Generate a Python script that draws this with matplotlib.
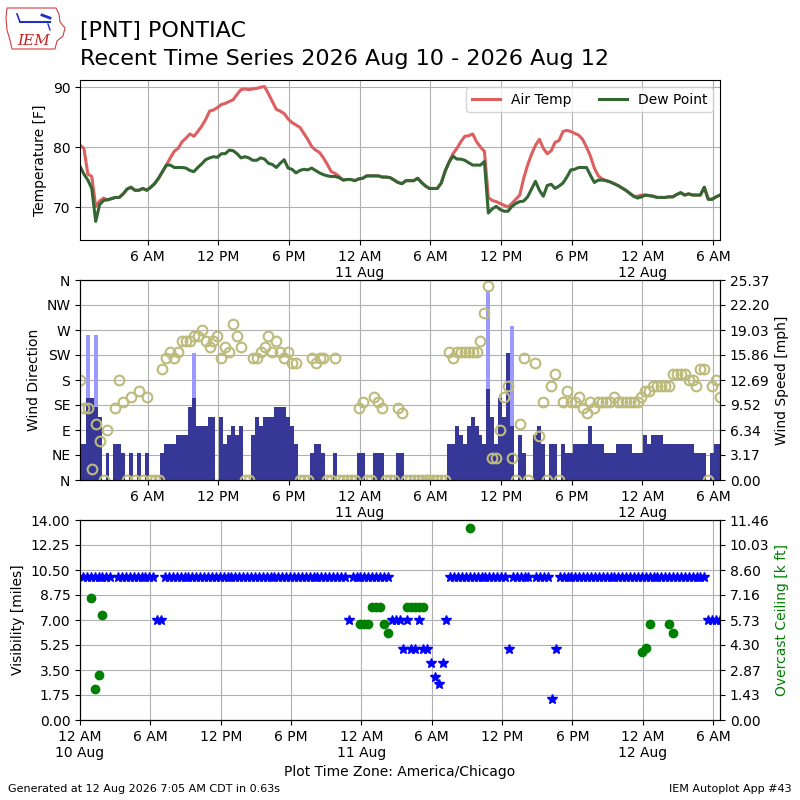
# -*- coding: utf-8 -*-
"""
Recent time series for [PNT] PONTIAC
temperature / dew point, wind, visibility + overcast ceiling
"""
import datetime
import numpy as np
import matplotlib
matplotlib.use('Agg')
import matplotlib.pyplot as plt
import matplotlib.dates as mdates
from matplotlib.patches import Polygon

nan = np.nan

# observations every 20 minutes, first one at 00:15 10 Aug (America/Chicago)
first_obs = datetime.datetime(2026, 8, 10, 0, 15)

# air temperature [F]
tmpf = [
    80.3, 79.8, 75.5, 75.1, 70.1, 71.0, 71.5, 71.2, 71.4, 71.6,
    71.6, 72.2, 73.0, 73.3, 72.8, 72.8, 73.1, 72.8, 73.3, 73.9,
    74.8, 75.9, 77.0, 78.2, 79.3, 79.8, 80.9, 81.5, 82.2, 81.8,
    82.6, 83.5, 84.6, 86.0, 86.2, 86.6, 87.1, 87.3, 87.6, 87.9,
    88.8, 89.6, 89.7, 89.6, 89.7, 89.8, 90.0, 90.1, 88.9, 87.6,
    86.3, 86.0, 85.6, 84.7, 84.1, 83.7, 83.3, 82.3, 81.3, 80.1,
    79.5, 79.1, 78.2, 77.1, 75.9, 75.6, 75.1, 74.5, 74.6, 74.6,
    74.4, 74.7, 74.8, 75.2, 75.2, 75.2, 75.2, 75.0, 75.0, 74.9,
    74.5, 74.1, 73.9, 74.4, 74.4, 74.4, 74.8, 74.1, 73.5, 73.1,
    73.1, 73.1, 74.0, 76.0, 77.5, 78.9, 79.8, 80.9, 81.8, 81.9,
    82.2, 80.9, 80.0, 79.3, 71.6, 71.1, 70.9, 70.6, 70.3, 70.0,
    70.6, 71.3, 72.0, 74.8, 77.0, 78.8, 80.3, 81.3, 79.8, 78.9,
    79.4, 80.8, 81.1, 82.6, 82.8, 82.6, 82.3, 82.0, 81.3, 80.0,
    78.5, 76.5, 75.2, 74.7, 74.4, 74.2, 73.9, 73.6, 73.2, 72.8,
    72.3, 71.8, 71.8, 72.0, 72.0, 71.9, 71.8, 71.6, 71.6, 71.6,
    71.7, 71.7, 72.1, 72.4, 72.0, 72.2, 72.0, 72.0, 72.0, 73.3,
    71.3, 71.3, 71.7, 72.0,
]

# dew point [F]
dwpf = [
    76.8, 75.5, 74.5, 73.1, 67.6, 70.4, 71.1, 71.2, 71.4, 71.6,
    71.6, 72.2, 73.0, 73.3, 72.8, 72.8, 73.1, 72.8, 73.3, 73.9,
    74.8, 75.9, 77.0, 77.0, 76.6, 76.6, 76.6, 76.5, 76.1, 75.9,
    76.6, 77.2, 77.9, 78.2, 78.4, 78.3, 78.9, 78.9, 79.5, 79.4,
    78.9, 78.2, 78.4, 78.2, 77.8, 77.8, 78.2, 78.0, 77.3, 77.1,
    76.6, 77.3, 77.9, 76.5, 76.3, 75.7, 76.1, 76.3, 76.2, 76.5,
    76.1, 75.7, 75.4, 75.2, 75.1, 75.1, 74.9, 74.5, 74.6, 74.6,
    74.4, 74.7, 74.8, 75.2, 75.2, 75.2, 75.2, 75.0, 75.0, 74.9,
    74.5, 74.1, 73.9, 74.4, 74.4, 74.4, 74.8, 74.1, 73.5, 73.1,
    73.1, 73.1, 74.0, 76.0, 77.5, 78.5, 78.0, 78.0, 77.8, 77.4,
    77.0, 77.0, 77.0, 77.6, 69.0, 69.7, 70.1, 69.6, 69.3, 69.3,
    70.1, 70.6, 70.9, 71.0, 71.7, 73.0, 74.3, 72.8, 71.8, 73.6,
    73.8, 73.1, 73.5, 74.0, 75.0, 76.2, 76.3, 76.6, 76.6, 76.6,
    75.3, 74.1, 74.5, 74.5, 74.4, 74.2, 73.9, 73.6, 73.2, 72.8,
    72.3, 71.8, 71.5, 71.7, 72.0, 71.9, 71.8, 71.6, 71.6, 71.6,
    71.7, 71.7, 72.1, 72.4, 72.0, 72.2, 72.0, 72.0, 72.0, 73.3,
    71.3, 71.3, 71.7, 72.0,
]

# wind speed [knots]
sknt = [
    4, 4, 9, 9, 8, 7, 0, 3, 0, 4,
    4, 3, 0, 3, 0, 3, 0, 3, 0, 0,
    0, 3, 4, 4, 4, 5, 5, 5, 8, 9,
    6, 6, 6, 7, 7, 0, 7, 4, 5, 6,
    5, 6, 0, 0, 5, 7, 6, 7, 7, 7,
    8, 8, 8, 7, 6, 4, 0, 0, 0, 3,
    4, 4, 3, 0, 0, 3, 0, 0, 0, 0,
    0, 3, 3, 0, 0, 3, 3, 3, 0, 0,
    0, 3, 3, 0, 0, 0, 0, 0, 0, 0,
    0, 0, 0, 0, 4, 4, 6, 5, 4, 6,
    7, 6, 5, 4, 10, 7, 4, 9, 7, 14,
    6, 0, 5, 3, 0, 0, 5, 6, 4, 0,
    4, 4, 0, 4, 3, 3, 4, 4, 4, 4,
    6, 4, 4, 4, 3, 3, 3, 4, 4, 4,
    4, 3, 3, 3, 5, 4, 5, 5, 5, 4,
    4, 4, 4, 4, 4, 4, 4, 3, 3, 3,
    0, 3, 4, 4,
]

# wind gust [knots]
gust = [
    nan, nan, 16, nan, 16, nan, nan, nan, nan, nan,
    nan, nan, nan, nan, nan, nan, nan, nan, nan, nan,
    nan, nan, nan, nan, nan, nan, nan, nan, nan, 14,
    nan, nan, nan, nan, nan, nan, nan, nan, nan, nan,
    nan, nan, nan, nan, nan, nan, nan, nan, nan, nan,
    nan, nan, nan, nan, nan, nan, nan, nan, nan, nan,
    nan, nan, nan, nan, nan, nan, nan, nan, nan, nan,
    nan, nan, nan, nan, nan, nan, nan, nan, nan, nan,
    nan, nan, nan, nan, nan, nan, nan, nan, nan, nan,
    nan, nan, nan, nan, nan, nan, nan, nan, nan, nan,
    nan, nan, nan, nan, 21, nan, nan, nan, nan, nan,
    17, nan, nan, nan, nan, nan, nan, nan, nan, nan,
    nan, nan, nan, nan, nan, nan, nan, nan, nan, nan,
    nan, nan, nan, nan, nan, nan, nan, nan, nan, nan,
    nan, nan, nan, nan, nan, nan, nan, nan, nan, nan,
    nan, nan, nan, nan, nan, nan, nan, nan, nan, nan,
    nan, nan, nan, nan,
]

# wind direction [deg]
drct = [
    180, 130, 130, 20, 100, 70, 0, 90, nan, 130,
    180, 140, 0, 150, 0, 160, 0, 150, 0, 0,
    0, 200, 220, 230, 220, 230, 250, 250, 250, 260,
    260, 270, 250, 240, 250, 260, 220, 240, 230, 280,
    260, 240, 0, 0, 220, 220, 230, 240, 260, 230,
    250, 230, 220, 230, 210, 210, 0, 0, 0, 220,
    210, 220, 220, 0, 0, 220, 0, 0, 0, 0,
    0, 130, 140, 0, 0, 150, 140, 130, 0, 0,
    0, 130, 120, 0, 0, 0, 0, 0, 0, 0,
    0, 0, 0, 0, 230, 220, 230, 230, 230, 230,
    230, 230, 250, 300, 350, 40, 40, 90, 150, 170,
    40, 0, 100, 220, 0, nan, 210, 80, 140, 0,
    170, 190, 0, 140, 160, 140, 140, 150, 130, 120,
    140, 130, 140, 140, 140, 140, 150, 140, 140, 140,
    140, 140, 140, 150, 160, 160, 170, 170, 170, 170,
    170, 190, 190, 190, 190, 180, 180, 170, 200, 200,
    0, 170, 180, 150,
]

# visibility [miles]
vsby = [
    10, 10, 10, 10, 10, 10, 10, 10, nan, 10,
    10, 10, 10, 10, 10, 10, 10, 10, 10, 7,
    7, 10, 10, 10, 10, 10, 10, 10, 10, 10,
    10, 10, 10, 10, 10, 10, 10, 10, 10, 10,
    10, 10, 10, 10, 10, 10, 10, 10, 10, 10,
    10, 10, 10, 10, 10, 10, 10, 10, 10, 10,
    10, 10, 10, 10, 10, 10, 10, 10, 7, 10,
    10, 10, 10, 10, 10, 10, 10, 10, 10, 7,
    7, 7, 5, 7, 5, 5, 7, 5, 5, 4,
    3, 2.5, 4, 7, 10, 10, 10, 10, 10, 10,
    10, 10, 10, 10, 10, 10, 10, 10, 10, 5,
    10, 10, 10, 10, 10, nan, 10, 10, 10, 10,
    1.5, 5, 10, 10, 10, 10, 10, 10, 10, 10,
    10, 10, 10, 10, 10, 10, 10, 10, 10, 10,
    10, 10, 10, 10, 10, 10, 10, 10, 10, 10,
    10, 10, 10, 10, 10, 10, 10, 10, 10, 10,
    7, 7, 7, 7,
]

# overcast ceiling [k ft]
ceil = [
    nan, nan, 7.0, 1.8, 2.6, 6.0, nan, nan, nan, nan,
    nan, nan, nan, nan, nan, nan, nan, nan, nan, nan,
    nan, nan, nan, nan, nan, nan, nan, nan, nan, nan,
    nan, nan, nan, nan, nan, nan, nan, nan, nan, nan,
    nan, nan, nan, nan, nan, nan, nan, nan, nan, nan,
    nan, nan, nan, nan, nan, nan, nan, nan, nan, nan,
    nan, nan, nan, nan, nan, nan, nan, nan, nan, nan,
    nan, 5.5, 5.5, 5.5, 6.5, 6.5, 6.5, 5.5, 5.0, nan,
    nan, nan, nan, 6.5, 6.5, 6.5, 6.5, 6.5, nan, nan,
    nan, nan, nan, nan, nan, nan, nan, nan, nan, 11.0,
    nan, nan, nan, nan, nan, nan, nan, nan, nan, nan,
    nan, nan, nan, nan, nan, nan, nan, nan, nan, nan,
    nan, nan, nan, nan, nan, nan, nan, nan, nan, nan,
    nan, nan, nan, nan, nan, nan, nan, nan, nan, nan,
    nan, nan, nan, 3.9, 4.1, 5.5, nan, nan, nan, nan,
    5.5, 5.0, nan, nan, nan, nan, nan, nan, nan, nan,
    nan, nan, nan, nan,
]

DIR_LABELS = ['N', 'NE', 'E', 'SE', 'S', 'SW', 'W', 'NW', 'N']
SPD_MAX = 25.374
CEIL_MAX = 11.461
VIS_MAX = 14.0

valid = [first_obs + datetime.timedelta(minutes=20 * i) for i in range(len(tmpf))]
midnight = datetime.datetime(2026, 8, 10)
tick_times = [midnight + datetime.timedelta(hours=6 * k) for k in range(10)]

sped = np.array(sknt, dtype=float) * 1.15078
gust_mph = np.array(gust, dtype=float) * 1.15078
barw = 20. / 1440.


def fmt_time(x, pos=None):
    d = mdates.num2date(x)
    lab = d.strftime('%I %p').lstrip('0')
    if d.hour == 0:
        lab += '\n' + d.strftime('%d %b')
    return lab


def set_time_axis(ax):
    ax.xaxis.set_major_locator(matplotlib.ticker.FixedLocator(mdates.date2num(tick_times)))
    ax.xaxis.set_major_formatter(matplotlib.ticker.FuncFormatter(fmt_time))


fig = plt.figure(figsize=(8, 8), dpi=100)

# header
fig.text(0.1, 1 - 37.5 / 800., '[PNT] PONTIAC', fontsize=16)
fig.text(0.1, 1 - 65. / 800., 'Recent Time Series 2026 Aug 10 - 2026 Aug 12', fontsize=16)

# crude IEM logo
lax = fig.add_axes([0.0, 0.935, 0.09, 0.065])
lax.set_xlim(0, 72)
lax.set_ylim(52, 0)
lax.axis('off')
lax.add_patch(Polygon([(7, 8), (56, 8), (59, 14), (60, 22), (65, 28), (63, 36), (57, 41),
                       (55, 49), (12, 49), (10, 40), (7, 30), (6, 18)],
                      closed=True, fill=False, ec='#d04040', lw=0.8))
lax.plot([20, 50], [22, 22], color='#2030c0', lw=1.5)
lax.plot([17, 20], [14, 22], color='#2030c0', lw=1.2)
lax.plot([42, 50], [15, 18], color='#2030c0', lw=2)
lax.plot([48, 50], [24, 30], color='#2030c0', lw=1)
lax.text(34, 45, 'IEM', color='#cc2020', fontsize=11, family='serif', style='italic',
         ha='center', va='baseline')

# ---- temperature panel
ax1 = fig.add_axes([0.1, 0.7, 0.8, 0.2])
ax1.plot(valid, tmpf, color='#dd5f5f', lw=2.2, label='Air Temp')
ax1.plot(valid, dwpf, color='#336633', lw=2.2, label='Dew Point')
ax1.set_ylim(64.5, 91.2)
ax1.set_yticks([70, 80, 90])
ax1.set_ylabel('Temperature [F]')
ax1.grid(True)
set_time_axis(ax1)
ax1.set_xlim(valid[0], valid[-1])
ax1.legend(loc='upper right', ncol=2, fontsize=10)

# ---- wind panel: speed bars underneath, direction circles on top
ax2 = fig.add_axes([0.1, 0.4, 0.8, 0.25])
ax2.bar(valid, gust_mph, width=barw, color='#9999ff', zorder=2)
ax2.bar(valid, sped, width=barw, color='#373797', zorder=3)
ax2.set_ylim(0, SPD_MAX)
ax2.set_yticks(np.linspace(0, SPD_MAX, 9))
ax2.yaxis.set_major_formatter(matplotlib.ticker.FormatStrFormatter('%.2f'))
ax2.grid(True)
ax2.set_axisbelow(True)
set_time_axis(ax2)
ax2.set_xlim(valid[0], valid[-1])

ax2d = ax2.twinx()
ax2d.plot(valid, drct, 'o', mfc='none', mec='#bdbb7b', ms=7, mew=1.5)
ax2d.set_ylim(0, 360)
ax2d.set_yticks(range(0, 361, 45))
ax2d.set_yticklabels(DIR_LABELS)
# twinx puts the parent on the left: swap sides afterwards
ax2.yaxis.tick_right()
ax2.yaxis.set_label_position('right')
ax2.set_ylabel('Wind Speed [mph]')
ax2d.yaxis.tick_left()
ax2d.yaxis.set_label_position('left')
ax2d.set_ylabel('Wind Direction')

# ---- visibility / ceiling panel
ax3 = fig.add_axes([0.1, 0.1, 0.8, 0.25])
ax3.plot(valid, vsby, '*', color='b', ms=7, ls='none')
ax3.set_ylim(0, VIS_MAX)
ax3.set_yticks(np.linspace(0, VIS_MAX, 9))
ax3.yaxis.set_major_formatter(matplotlib.ticker.FormatStrFormatter('%.2f'))
ax3.set_ylabel('Visibility [miles]')
ax3.grid(True)
set_time_axis(ax3)
ax3.set_xlim(midnight, valid[-1])
ax3.set_xlabel('Plot Time Zone: America/Chicago')

ax3c = ax3.twinx()
ax3c.plot(valid, ceil, 'o', color='g', ms=6, ls='none')
ax3c.set_ylim(0, CEIL_MAX)
ax3c.set_yticks(np.linspace(0, CEIL_MAX, 9))
ax3c.yaxis.set_major_formatter(matplotlib.ticker.FormatStrFormatter('%.2f'))
ax3c.set_ylabel('Overcast Ceiling [k ft]', color='g')

# footer
fig.text(0.01, 0.01, 'Generated at 12 Aug 2026 7:05 AM CDT in 0.63s', fontsize=8)
fig.text(0.99, 0.01, 'IEM Autoplot App #43', fontsize=8, ha='right')

fig.savefig('out.png', dpi=100)
